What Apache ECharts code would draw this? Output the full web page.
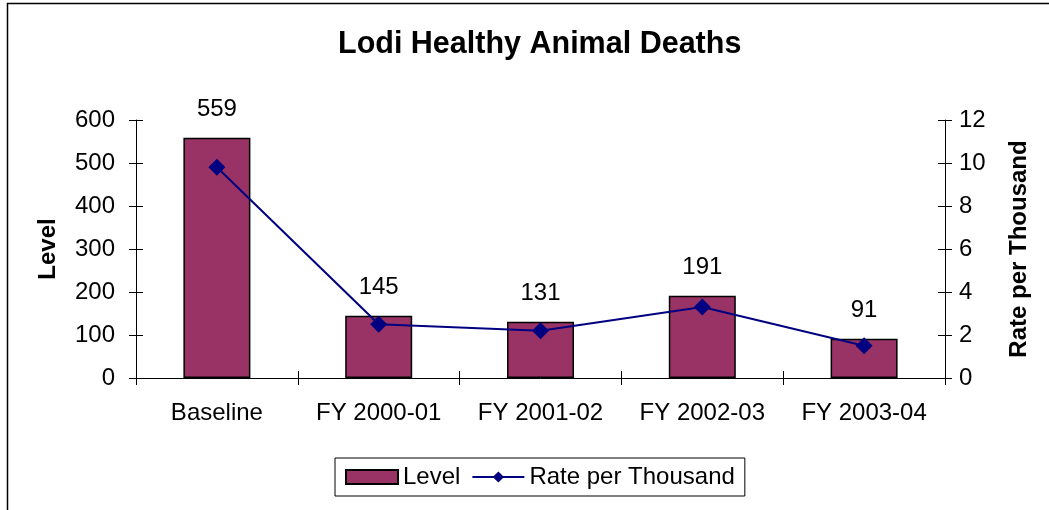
<!DOCTYPE html>
<html>
<head>
<meta charset="utf-8">
<script src="https://cdn.jsdelivr.net/npm/echarts@6/dist/echarts.min.js"></script>
<style>
html,body{margin:0;padding:0;background:#fff;}
#chart{width:1049px;height:510px;}
</style>
</head>
<body>
<div id="chart"></div>
<script>
var categories = ['Baseline', 'FY 2000-01', 'FY 2001-02', 'FY 2002-03', 'FY 2003-04'];
var levelValues = [559, 145, 131, 191, 91];
var rateValues = [9.8, 2.5, 2.2, 3.3, 1.5];
var leftTicks = [0, 100, 200, 300, 400, 500, 600];
var rightTicks = [0, 2, 4, 6, 8, 10, 12];

var FONT = '"Liberation Sans", Arial, sans-serif';
var chart = echarts.init(document.getElementById('chart'), null, {renderer: 'canvas'});

var leftMin = leftTicks[0], leftMax = leftTicks[leftTicks.length - 1], leftInt = leftTicks[1] - leftTicks[0];
var rightMin = rightTicks[0], rightMax = rightTicks[rightTicks.length - 1], rightInt = rightTicks[1] - rightTicks[0];

var option = {
  backgroundColor: '#fff',
  animation: false,
  textStyle: {fontFamily: FONT},
  title: {
    text: 'Lodi Healthy Animal Deaths',
    left: 333,
    top: 24,
    textStyle: {fontFamily: FONT, fontSize: 30.5, fontWeight: 'bold', color: '#000'}
  },
  graphic: [{
    type: 'rect',
    shape: {x: 7.5, y: 3.5, width: 1200, height: 700},
    style: {fill: 'none', stroke: '#000', lineWidth: 1.5},
    silent: true
  }],
  legend: {
    left: 335,
    top: 458,
    orient: 'horizontal',
    itemWidth: 52,
    itemHeight: 14,
    itemGap: 11,
    padding: [7, 10],
    borderColor: '#000',
    borderWidth: 1,
    textStyle: {fontFamily: FONT, fontSize: 24, color: '#000'},
    data: [{name: 'Level', icon: 'rect'}, {name: 'Rate per Thousand'}]
  },
  grid: {left: 136, right: 104, top: 120, bottom: 132, containLabel: false},
  xAxis: [{
    type: 'category',
    data: categories,
    position: 'bottom',
    axisLine: {lineStyle: {color: '#000', width: 1}},
    axisTick: {show: true, inside: false, length: 7, interval: 0, lineStyle: {color: '#000'}},
    axisLabel: {fontFamily: FONT, fontSize: 24, color: '#000', margin: 23, interval: 0},
    splitLine: {show: false}
  }, {
    type: 'category',
    data: categories,
    position: 'bottom',
    axisLine: {show: false},
    axisTick: {show: true, inside: true, length: 7, interval: 0, lineStyle: {color: '#000'}},
    axisLabel: {show: false},
    splitLine: {show: false}
  }],
  yAxis: [{
    type: 'value',
    position: 'left',
    min: leftMin, max: leftMax, interval: leftInt,
    name: 'Level',
    nameLocation: 'middle',
    nameRotate: 90,
    nameGap: 76,
    nameTextStyle: {fontFamily: FONT, fontSize: 24, fontWeight: 'bold', color: '#000'},
    axisLine: {show: true, lineStyle: {color: '#000', width: 1}},
    axisTick: {show: true, inside: false, length: 7, lineStyle: {color: '#000'}},
    axisLabel: {fontFamily: FONT, fontSize: 24, color: '#000', margin: 21},
    splitLine: {show: false}
  }, {
    type: 'value',
    position: 'right',
    min: rightMin, max: rightMax, interval: rightInt,
    name: 'Rate per Thousand',
    nameLocation: 'middle',
    nameRotate: 90,
    nameGap: 62,
    nameTextStyle: {fontFamily: FONT, fontSize: 24, fontWeight: 'bold', color: '#000'},
    axisLine: {show: true, lineStyle: {color: '#000', width: 1}},
    axisTick: {show: true, inside: false, length: 7, lineStyle: {color: '#000'}},
    axisLabel: {fontFamily: FONT, fontSize: 24, color: '#000', margin: 14},
    splitLine: {show: false}
  }, {
    type: 'value',
    position: 'left',
    min: leftMin, max: leftMax, interval: leftInt,
    axisLine: {show: false},
    axisTick: {show: true, inside: true, length: 7, lineStyle: {color: '#000'}},
    axisLabel: {show: false},
    splitLine: {show: false}
  }, {
    type: 'value',
    position: 'right',
    min: rightMin, max: rightMax, interval: rightInt,
    axisLine: {show: false},
    axisTick: {show: true, inside: true, length: 7, lineStyle: {color: '#000'}},
    axisLabel: {show: false},
    splitLine: {show: false}
  }],
  series: [{
    name: 'Level',
    type: 'bar',
    xAxisIndex: 0,
    yAxisIndex: 0,
    data: levelValues,
    barWidth: 67,
    itemStyle: {color: '#993366', borderColor: '#000', borderWidth: 1.5},
    label: {show: true, position: 'top', distance: 16, fontFamily: FONT, fontSize: 24, color: '#000'}
  }, {
    name: 'Rate per Thousand',
    type: 'line',
    xAxisIndex: 0,
    yAxisIndex: 1,
    data: rateValues,
    symbol: 'diamond',
    symbolSize: 17,
    lineStyle: {color: '#000080', width: 2},
    itemStyle: {color: '#000080'},
    z: 5
  }]
};
chart.setOption(option);
</script>
</body>
</html>
